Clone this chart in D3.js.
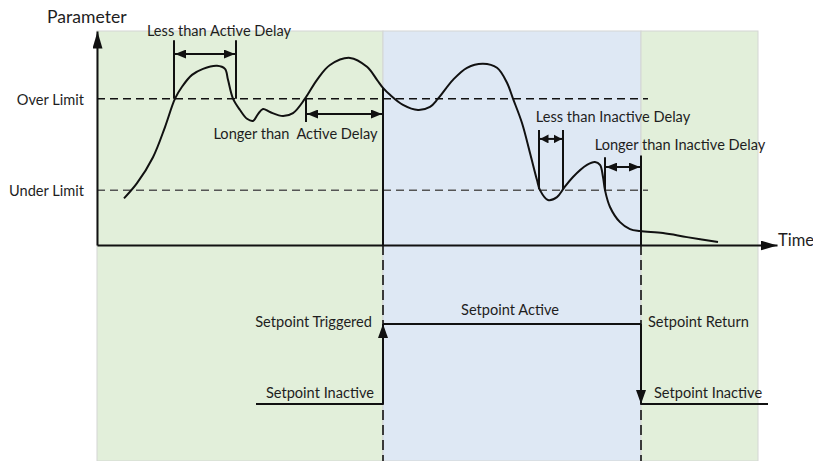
<!DOCTYPE html>
<html>
<head>
<meta charset="utf-8">
<script src="https://cdn.jsdelivr.net/npm/d3@7"></script>
<style>
  body { margin: 0; background: #fff; }
  text { font-family: Lato, "Open Sans", sans-serif; font-size: 14.6px; fill: #1e1e1e; }
</style>
</head>
<body>
<script>
// measured parameter trace (time units, parameter value)
var traceT = [2.7, 4.0, 5.6, 6.8, 7.8, 8.5, 9.5, 10.6, 12.0, 12.8, 13.1, 13.6, 14.3, 15.0, 15.6, 16.1, 16.6, 17.3, 18.6, 19.6,
              20.8, 22.0, 23.3, 25.3, 27.0, 28.0, 28.6, 29.3, 30.6, 32.1, 33.3, 34.1, 35.6, 37.0, 38.6, 40.0, 41.0, 41.6,
              42.5, 43.3, 44.0, 44.3, 45.1, 46.0, 46.7, 47.6, 49.0, 49.8, 50.3, 50.6, 50.8, 51.3, 52.3, 53.3, 54.3, 56.6, 59.0, 62.1];
var traceV = [25.5, 33.8, 48, 64.5, 80, 86.5, 93, 96.3, 98, 96.3, 90.3, 80, 73.8, 69, 67.8, 71.6, 74.4, 72.7, 70.5, 72.1,
              80, 90.3, 98.4, 102.3, 97.4, 90.3, 85.9, 82.1, 76.6, 73.8, 75.5, 80, 90.3, 96.9, 99.1, 96.9, 88.7, 80,
              66.7, 50.3, 35.5, 30, 24.6, 26.2, 31.2, 37.2, 43.8, 45.4, 43.8, 37.2, 30, 20.8, 12.5, 8.7, 7.6, 6.5, 4.3, 1.6];

var overLimit = 80;
var underLimit = 30;
var yMax = 117;
var tMax = 68;

// shaded phases
var phaseFrom = [0, 28.6, 54.4];
var phaseTo = [28.6, 54.4, 66.1];
var phaseKind = ["inactive", "active", "inactive"];

// trigger / return instants
var triggerT = 28.6, triggerTop = 86;
var returnT = 54.4, returnTop = 49;

// delay annotations
var delayNames = ["Less than Active Delay", "Longer than  Active Delay", "Less than Inactive Delay", "Longer than Inactive Delay"];
var delayFrom = [7.7, 20.9, 44.2, 50.8];
var delayTo = [13.9, 28.6, 46.6, 54.4];
var delayArrowV = [104.4, 71.6, 58, 42.6];
var delayTop = [112, 80, 62.9, 48];
var delayBottom = [80, 67.2, 30.5, 30];

// setpoint state segments
var stateNames = ["Setpoint Inactive", "Setpoint Active", "Setpoint Inactive"];
var stateFrom = [15.9, 28.6, 54.4];
var stateTo = [28.6, 54.4, 67.1];
var stateLevel = [0, 1, 0];

var W = 813, H = 461;
var svg = d3.select("body").append("svg").attr("width", W).attr("height", H);

var x = d3.scaleLinear().domain([0, tMax]).range([97, 777]);
var y = d3.scaleLinear().domain([0, yMax]).range([245, 31]);
var s = d3.scaleLinear().domain([0, 1]).range([404, 324]);
var phaseColor = d3.scaleOrdinal().domain(["inactive", "active"]).range(["#e2efda", "#dee8f4"]);

// arrowhead markers
var defs = svg.append("defs");
function marker(id, len, wid) {
  defs.append("marker")
    .attr("id", id)
    .attr("viewBox", "0 0 " + len + " " + wid)
    .attr("markerUnits", "userSpaceOnUse")
    .attr("markerWidth", len).attr("markerHeight", wid)
    .attr("refX", len).attr("refY", wid / 2)
    .attr("orient", "auto-start-reverse")
    .append("path")
    .attr("d", "M0,0L" + len + "," + (wid / 2) + "L0," + wid + "Z")
    .attr("fill", "#111");
}
marker("axisHead", 17, 10);
marker("delayHead", 11, 9);
marker("delayHeadSmall", 8.5, 9);
marker("stateHead", 14, 10);

// background phases
svg.append("g").selectAll("rect")
  .data(phaseKind)
  .join("rect")
  .attr("x", function (d, i) { return x(phaseFrom[i]); })
  .attr("y", y(yMax))
  .attr("width", function (d, i) { return x(phaseTo[i]) - x(phaseFrom[i]); })
  .attr("height", H - y(yMax))
  .attr("fill", function (d) { return phaseColor(d); })
  .attr("stroke", "#d4d6d4")
  .attr("stroke-width", 1);

// limit lines
var limits = [overLimit, underLimit];
var limitNames = ["Over Limit", "Under Limit"];
var limitColor = ["#111", "#555"];
svg.append("g").selectAll("line")
  .data(limits)
  .join("line")
  .attr("x1", x(0)).attr("x2", x(55.1))
  .attr("y1", function (d) { return y(d); })
  .attr("y2", function (d) { return y(d); })
  .attr("stroke", function (d, i) { return limitColor[i]; })
  .attr("stroke-width", 1.5)
  .attr("stroke-dasharray", "8,5");
svg.append("g").selectAll("text")
  .data(limitNames)
  .join("text")
  .attr("x", x(0) - 13)
  .attr("y", function (d, i) { return y(limits[i]) + 6; })
  .attr("text-anchor", "end")
  .text(function (d) { return d; });

// dashed continuation of trigger / return below the axis
svg.append("g").selectAll("line")
  .data([triggerT, returnT])
  .join("line")
  .attr("x1", function (d) { return x(d); })
  .attr("x2", function (d) { return x(d); })
  .attr("y1", y(0)).attr("y2", H)
  .attr("stroke", "#3a3a3a")
  .attr("stroke-width", 2)
  .attr("stroke-dasharray", "10,5");

// solid trigger / return verticals in the plot
svg.append("g").selectAll("line")
  .data([[triggerT, triggerTop], [returnT, returnTop]])
  .join("line")
  .attr("x1", function (d) { return x(d[0]); })
  .attr("x2", function (d) { return x(d[0]); })
  .attr("y1", function (d) { return y(d[1]); })
  .attr("y2", y(0))
  .attr("stroke", "#111")
  .attr("stroke-width", 2);

// axes (no ticks, just arrows)
var xAxis = svg.append("g")
  .attr("transform", "translate(0," + y(0) + ")")
  .call(d3.axisBottom(x).tickValues([]).tickSizeOuter(0));
xAxis.select(".domain").attr("stroke", "#111").attr("stroke-width", 2).attr("marker-end", "url(#axisHead)");
var yAxis = svg.append("g")
  .attr("transform", "translate(" + x(0) + ",0)")
  .call(d3.axisLeft(y).tickValues([]).tickSizeOuter(0));
yAxis.select(".domain").attr("stroke", "#111").attr("stroke-width", 2).attr("marker-end", "url(#axisHead)");

svg.append("text").attr("x", 47).attr("y", 23).style("font-size", "17.6px").text("Parameter");
svg.append("text").attr("x", x(tMax) + 1).attr("y", y(0) + 1).style("font-size", "16.5px").text("Time");

// parameter trace
var traceData = traceT.map(function (t, i) { return [t, traceV[i]]; });
svg.append("path")
  .datum(traceData)
  .attr("fill", "none")
  .attr("stroke", "#111")
  .attr("stroke-width", 2)
  .attr("d", d3.line()
    .x(function (d) { return x(d[0]); })
    .y(function (d) { return y(d[1]); })
    .curve(d3.curveCatmullRom.alpha(0.5)));

// delay annotations
var labelShift = [[14, -18], [-49, 25], [62, -17], [57, -17]];
var delay = svg.append("g").selectAll("g")
  .data(delayNames)
  .join("g");
delay.each(function (d, i) {
  var g = d3.select(this);
  [delayFrom[i], delayTo[i]].forEach(function (t) {
    g.append("line")
      .attr("x1", x(t)).attr("x2", x(t))
      .attr("y1", y(delayTop[i])).attr("y2", y(delayBottom[i]))
      .attr("stroke", "#111").attr("stroke-width", 2);
  });
  var head = (x(delayTo[i]) - x(delayFrom[i])) < 30 ? "url(#delayHeadSmall)" : "url(#delayHead)";
  g.append("line")
    .attr("x1", x(delayFrom[i]) + 1).attr("x2", x(delayTo[i]) - 1)
    .attr("y1", y(delayArrowV[i])).attr("y2", y(delayArrowV[i]))
    .attr("stroke", "#111").attr("stroke-width", 2)
    .attr("marker-start", head)
    .attr("marker-end", head);
  g.append("text")
    .attr("x", (x(delayFrom[i]) + x(delayTo[i])) / 2 + labelShift[i][0])
    .attr("y", y(delayArrowV[i]) + labelShift[i][1])
    .attr("text-anchor", "middle")
    .style("white-space", "pre")
    .text(d);
});

// setpoint state lines
var state = svg.append("g");
state.selectAll("line")
  .data(stateNames)
  .join("line")
  .attr("x1", function (d, i) { return x(stateFrom[i]); })
  .attr("x2", function (d, i) { return x(stateTo[i]); })
  .attr("y1", function (d, i) { return s(stateLevel[i]); })
  .attr("y2", function (d, i) { return s(stateLevel[i]); })
  .attr("stroke", "#111").attr("stroke-width", 2);

// transitions
state.append("line")
  .attr("x1", x(triggerT)).attr("x2", x(triggerT))
  .attr("y1", s(0)).attr("y2", s(1))
  .attr("stroke", "#111").attr("stroke-width", 2)
  .attr("marker-end", "url(#stateHead)");
state.append("line")
  .attr("x1", x(returnT)).attr("x2", x(returnT))
  .attr("y1", s(1)).attr("y2", s(0))
  .attr("stroke", "#111").attr("stroke-width", 2)
  .attr("marker-end", "url(#stateHead)");

// state labels
state.append("text").attr("x", x(stateTo[0]) - 9).attr("y", s(0) - 6).attr("text-anchor", "end").text(stateNames[0]);
state.append("text").attr("x", (x(stateFrom[1]) + x(stateTo[1])) / 2 - 2).attr("y", s(1) - 9).attr("text-anchor", "middle").text(stateNames[1]);
state.append("text").attr("x", x(stateFrom[2]) + 13).attr("y", s(0) - 6).text(stateNames[2]);
state.append("text").attr("x", x(triggerT) - 11).attr("y", s(1) + 3).attr("text-anchor", "end").text("Setpoint Triggered");
state.append("text").attr("x", x(returnT) + 7).attr("y", s(1) + 3).text("Setpoint Return");
</script>
</body>
</html>
